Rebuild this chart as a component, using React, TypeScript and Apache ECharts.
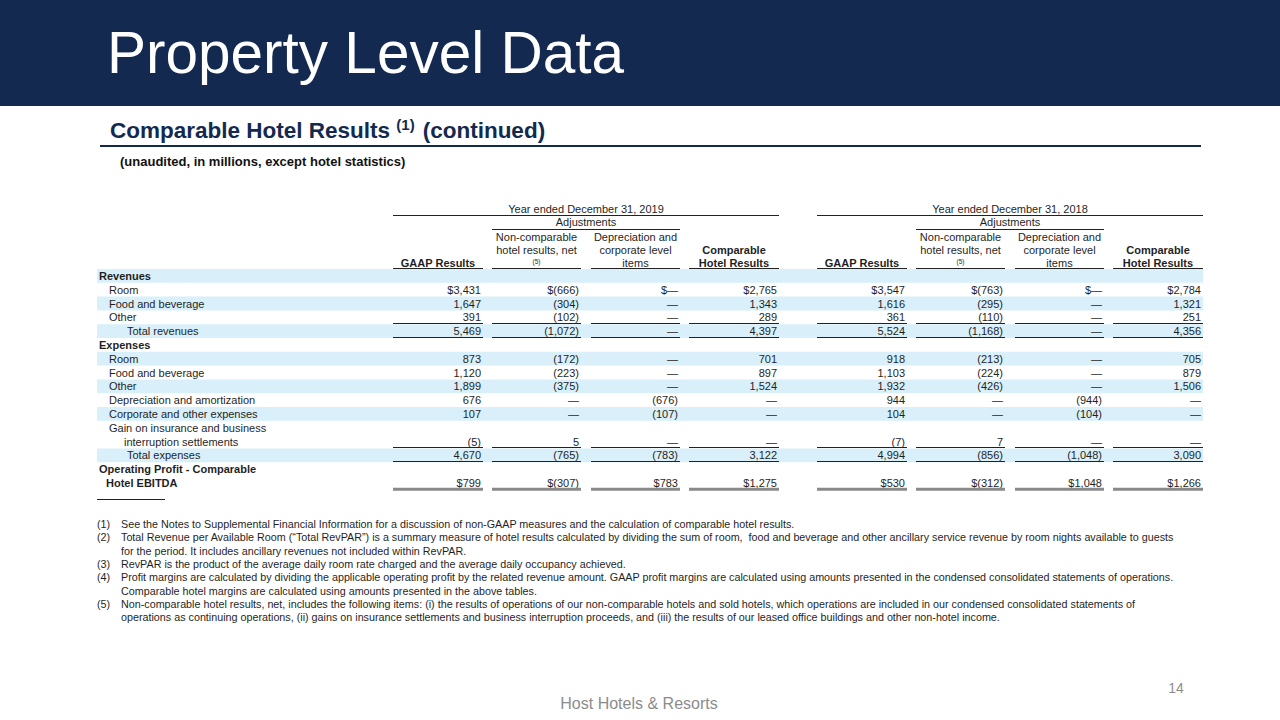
import React, { useEffect, useRef } from "react";
import * as echarts from "echarts";

const FONT = '"Liberation Sans", Arial, Helvetica, sans-serif';
const NAVY = "#13294f";
const TEXT = "#1f1f1f";
const BAND = "#d9f0fa";

const pageTitle = "Property Level Data";
const subTitle = "Comparable Hotel Results";
const subTitleSup = "(1)";
const subTitleTail = "(continued)";
const unitNote = "(unaudited, in millions, except hotel statistics)";
const footerText = "Host Hotels & Resorts";
const pageNumber = "14";

const yearHeaders = ["Year ended December 31, 2019", "Year ended December 31, 2018"];
const adjustmentsLabel = "Adjustments";
const gaapHeader = ["GAAP Results"];
const nonCompHeader = ["Non-comparable", "hotel results, net"];
const nonCompSup = "(5)";
const depHeader = ["Depreciation and", "corporate level", "items"];
const compHeader = ["Comparable", "Hotel Results"];

const rowLabels = [
  "Revenues",
  "Room",
  "Food and beverage",
  "Other",
  "Total revenues",
  "Expenses",
  "Room",
  "Food and beverage",
  "Other",
  "Depreciation and amortization",
  "Corporate and other expenses",
  "Gain on insurance and business",
  "interruption settlements",
  "Total expenses",
  "Operating Profit - Comparable",
  "Hotel EBITDA",
];
const rowLevel = [0, 1, 1, 1, 2, 0, 1, 1, 1, 1, 1, 1, 3, 2, 0, 4];
const rowBold = [true, false, false, false, false, true, false, false, false, false, false, false, false, false, true, true];
const rowShaded = [true, false, true, false, true, false, true, false, true, false, true, false, false, true, false, false];
const dollarRows = [1, 15];
const singleRuleAfter = [3, 12];
const totalRuleAfter = [4, 13];

const gaap2019 = [null, 3431, 1647, 391, 5469, null, 873, 1120, 1899, 676, 107, null, -5, 4670, null, 799];
const nonComp2019 = [null, -666, -304, -102, -1072, null, -172, -223, -375, 0, 0, null, 5, -765, null, -307];
const dep2019 = [null, 0, 0, 0, 0, null, 0, 0, 0, -676, -107, null, 0, -783, null, 783];
const comp2019 = [null, 2765, 1343, 289, 4397, null, 701, 897, 1524, 0, 0, null, 0, 3122, null, 1275];
const gaap2018 = [null, 3547, 1616, 361, 5524, null, 918, 1103, 1932, 944, 104, null, -7, 4994, null, 530];
const nonComp2018 = [null, -763, -295, -110, -1168, null, -213, -224, -426, 0, 0, null, 7, -856, null, -312];
const dep2018 = [null, 0, 0, 0, 0, null, 0, 0, 0, -944, -104, null, 0, -1048, null, 1048];
const comp2018 = [null, 2784, 1321, 251, 4356, null, 705, 879, 1506, 0, 0, null, 0, 3090, null, 1266];

const footnotes = [
  ["(1)", "See the Notes to Supplemental Financial Information for a discussion of non-GAAP measures and the calculation of comparable hotel results."],
  ["(2)", "Total Revenue per Available Room (\u201cTotal RevPAR\u201d) is a summary measure of hotel results calculated by dividing the sum of room,  food and beverage and other ancillary service revenue by room nights available to guests"],
  ["", "for the period. It includes ancillary revenues not included within RevPAR."],
  ["(3)", "RevPAR is the product of the average daily room rate charged and the average daily occupancy achieved."],
  ["(4)", "Profit margins are calculated by dividing the applicable operating profit by the related revenue amount. GAAP profit margins are calculated using amounts presented in the condensed consolidated statements of operations."],
  ["", "Comparable hotel margins are calculated using amounts presented in the above tables."],
  ["(5)", "Non-comparable hotel results, net, includes the following items: (i) the results of operations of our non-comparable hotels and sold hotels, which operations are included in our condensed consolidated statements of"],
  ["", "operations as continuing operations, (ii) gains on insurance settlements and business interruption proceeds, and (iii) the results of our leased office buildings and other non-hotel income."],
];

function fmt(v: number | null, dollar: boolean): string {
  if (v === null) return "";
  if (v === 0) return dollar ? "$\u2014" : "\u2014";
  const s = Math.abs(v).toLocaleString("en-US");
  const body = v < 0 ? `(${s})` : s;
  return dollar ? "$" + body : body;
}

let measureCtx: CanvasRenderingContext2D | null = null;
function textWidth(text: string, font: string): number {
  if (!measureCtx) measureCtx = document.createElement("canvas").getContext("2d");
  if (!measureCtx) return text.length * 6;
  measureCtx.font = font;
  return measureCtx.measureText(text).width;
}

function txt(text: string, x: number, y: number, size: number, opts: any = {}) {
  const align = opts.align || "left";
  const weight = opts.bold ? "bold" : "normal";
  return {
    type: "text",
    x,
    y,
    silent: true,
    style: {
      text,
      fill: opts.color || TEXT,
      font: `${weight} ${size}px ${FONT}`,
      fontSize: size,
      fontWeight: weight,
      fontFamily: FONT,
      align,
      textAlign: align,
      verticalAlign: "middle",
      textVerticalAlign: "middle",
    },
  };
}

function hline(x1: number, x2: number, y: number, w: number, color: string) {
  return {
    type: "line",
    silent: true,
    shape: { x1, y1: y, x2, y2: y },
    style: { stroke: color, lineWidth: w },
  };
}

function rect(x: number, y: number, w: number, h: number, fill: string) {
  return { type: "rect", silent: true, shape: { x, y, width: w, height: h }, style: { fill } };
}

function buildGraphics() {
  const els: any[] = [];
  // Banner
  els.push(rect(0, 0, 1280, 106, NAVY));
  els.push(txt(pageTitle, 107, 52, 58.5, { color: "#ffffff" }));

  // Sub title
  const subSize = 22.5;
  const supSize = 15;
  const subFont = `bold ${subSize}px ${FONT}`;
  const sx = 110;
  els.push(txt(subTitle, sx, 130, subSize, { bold: true, color: NAVY }));
  const w1 = textWidth(subTitle + " ", subFont);
  els.push(txt(subTitleSup, sx + w1, 124, supSize, { bold: true, color: NAVY }));
  const w2 = textWidth(subTitleSup, `bold ${supSize}px ${FONT}`) + 8;
  els.push(txt(subTitleTail, sx + w1 + w2, 130, subSize, { bold: true, color: NAVY }));
  els.push(hline(100, 1201, 146, 2, NAVY));
  els.push(txt(unitNote, 120, 161, 13, { bold: true, color: "#111" }));

  // Columns
  const colLeft = [393, 492, 591, 689, 817, 916, 1015, 1113];
  const colRight = [483, 581, 680, 779, 907, 1005, 1104, 1203];
  const colData = [gaap2019, nonComp2019, dep2019, comp2019, gaap2018, nonComp2018, dep2018, comp2018];
  const cx = (i: number) => (colLeft[i] + colRight[i]) / 2;

  // Row bands
  const top0 = 269;
  const rowH = 13.8;
  const tableL = 97;
  const tableR = 1203;
  rowLabels.forEach((_, i) => {
    if (rowShaded[i]) els.push(rect(tableL, top0 + i * rowH, tableR - tableL, rowH, BAND));
  });

  // Headers
  for (let b = 0; b < 2; b++) {
    const c0 = b * 4;
    els.push(txt(yearHeaders[b], (colLeft[c0] + colRight[c0 + 3]) / 2, 209, 11, { align: "center" }));
    els.push(hline(colLeft[c0], colRight[c0 + 3], 215.5, 1, "#222"));
    els.push(txt(adjustmentsLabel, (colLeft[c0 + 1] + colRight[c0 + 2]) / 2, 222, 11, { align: "center" }));
    els.push(hline(colLeft[c0 + 1], colRight[c0 + 2], 229.5, 1, "#222"));
    els.push(txt(gaapHeader[0], cx(c0), 262.5, 11, { bold: true, align: "center" }));
    nonCompHeader.forEach((t, k) => els.push(txt(t, cx(c0 + 1), 236.5 + k * 13, 11, { align: "center" })));
    els.push(txt(nonCompSup, cx(c0 + 1), 261, 6.5, { align: "center" }));
    depHeader.forEach((t, k) => els.push(txt(t, cx(c0 + 2), 236.5 + k * 13, 11, { align: "center" })));
    compHeader.forEach((t, k) => els.push(txt(t, cx(c0 + 3), 249.5 + k * 13, 11, { bold: true, align: "center" })));
  }
  colLeft.forEach((l, i) => els.push(hline(l, colRight[i], 268.5, 1, "#222")));

  // Rows
  const indentX = [99, 109, 127, 124, 106];
  rowLabels.forEach((label, i) => {
    const yc = top0 + i * rowH + rowH / 2;
    els.push(txt(label, indentX[rowLevel[i]], yc, 11, { bold: rowBold[i] }));
    const dollar = dollarRows.includes(i);
    colData.forEach((arr, c) => {
      const s = fmt(arr[i], dollar);
      if (s) els.push(txt(s, colRight[c] - 2, yc, 11, { align: "right" }));
    });
  });
  // rules
  [...singleRuleAfter, ...totalRuleAfter].forEach((r) => {
    const y = Math.round(top0 + (r + 1) * rowH) - 0.5;
    colLeft.forEach((l, i) => els.push(hline(l, colRight[i], y, 1, "#222")));
  });
  {
    const y = top0 + rowLabels.length * rowH - 0.5;
    colLeft.forEach((l, i) => els.push(hline(l, colRight[i], y, 3, "#8a8a8a")));
  }

  // Footnotes
  els.push(hline(97, 165, 499.5, 1, "#222"));
  footnotes.forEach(([num, t], k) => {
    const y = 524 + k * 13.3;
    if (num) els.push(txt(num, 97, y, 10.75));
    els.push(txt(t, 121, y, 10.75));
  });

  // Footer
  els.push(txt(footerText, 639, 703, 16, { align: "center", color: "#8c8c8c" }));
  els.push(txt(pageNumber, 1176, 688, 14, { align: "center", color: "#8c8c8c" }));
  return els;
}

export default function App() {
  const ref = useRef<HTMLDivElement>(null);
  useEffect(() => {
    if (!ref.current) return;
    const chart = echarts.init(ref.current, null, { renderer: "svg", width: 1280, height: 720 });
    chart.setOption({
      animation: false,
      backgroundColor: "#ffffff",
      graphic: { elements: buildGraphics() },
    });
    return () => chart.dispose();
  }, []);
  return (
    <div
      ref={ref}
      style={{ position: "fixed", left: 0, top: 0, width: 1280, height: 720, background: "#fff" }}
    />
  );
}
